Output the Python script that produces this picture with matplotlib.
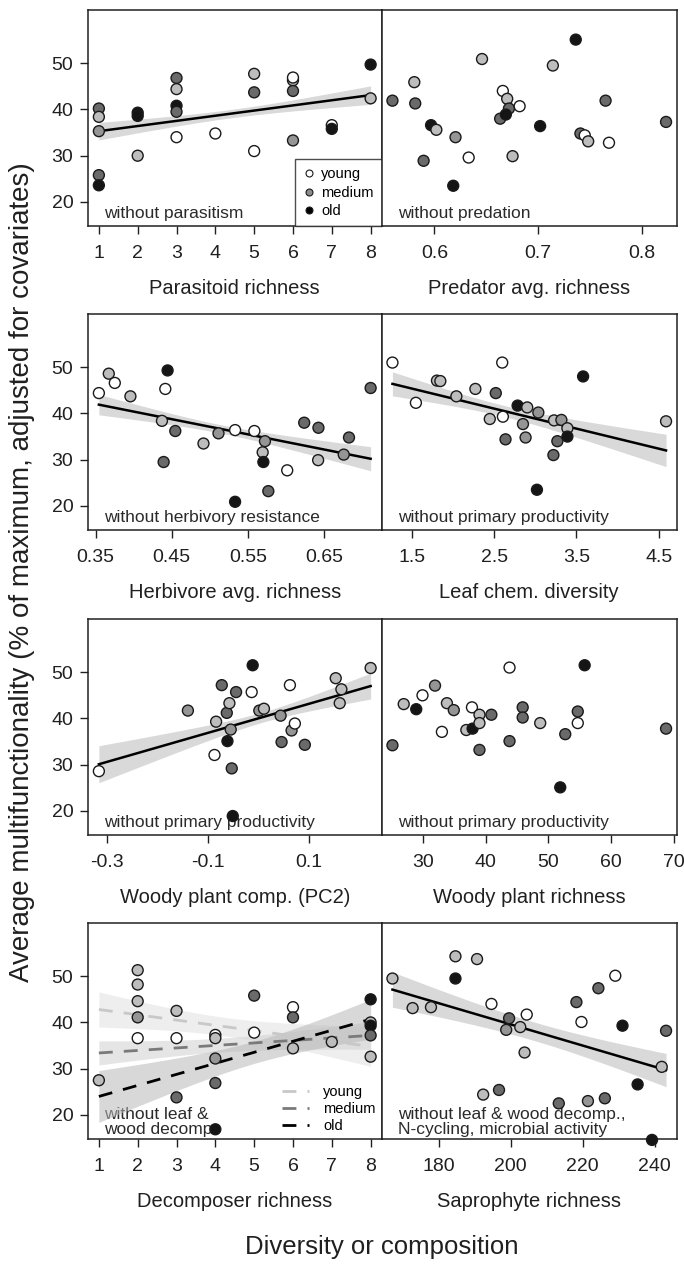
import numpy as np
import matplotlib
matplotlib.use("Agg")
import matplotlib.pyplot as plt
from matplotlib.lines import Line2D

plt.rcParams['font.family'] = ['Liberation Sans', 'DejaVu Sans']
plt.rcParams['axes.unicode_minus'] = False

# ---------------- data ----------------
# age codes: 0 = young (white) ... 4 = old (black)
age_colors = ['#ffffff', '#bdbdbd', '#959595', '#6a6a6a', '#151515']

parasitoid_x = [1, 1, 1, 1, 1, 2, 2, 2, 3, 3, 3, 3, 3, 4, 5, 5, 5, 6, 6, 6, 6, 7, 7, 8, 8]
parasitoid_y = [40.2, 38.4, 35.3, 25.8, 23.6, 39.3, 38.6, 30.0, 46.8, 44.4, 40.8, 39.5, 34.0, 34.8,
                47.7, 43.7, 31.0, 46.3, 46.9, 44.0, 33.3, 36.6, 35.8, 49.7, 42.4]
parasitoid_age = [3, 1, 2, 3, 4, 4, 4, 1, 3, 1, 4, 3, 0, 0, 1, 3, 0, 1, 0, 3, 2, 0, 4, 4, 1]

predator_x = [0.5595, 0.5806, 0.5815, 0.5896, 0.5968, 0.6019, 0.6182, 0.6204, 0.6331, 0.6460,
              0.6635, 0.6661, 0.6703, 0.6720, 0.6690, 0.6823, 0.6755, 0.7021, 0.7144, 0.7365,
              0.7410, 0.7452, 0.7485, 0.7653, 0.7686, 0.8237]
predator_y = [41.9, 45.9, 41.3, 28.9, 36.6, 35.6, 23.5, 34.0, 29.6, 50.9, 38.0, 44.0, 42.3, 40.2,
              38.9, 40.7, 29.9, 36.4, 49.5, 55.1, 34.8, 34.4, 33.1, 41.9, 32.8, 37.3]
predator_age = [3, 1, 3, 3, 4, 1, 4, 2, 0, 1, 3, 0, 1, 3, 4, 0, 1, 4, 1, 4, 3, 0, 1, 3, 0, 3]

herbivore_x = [0.3544, 0.3674, 0.3753, 0.3958, 0.4416, 0.4446, 0.4372, 0.4547, 0.4394, 0.4917,
               0.5114, 0.5332, 0.5332, 0.5585, 0.5724, 0.5694, 0.5703, 0.5768, 0.6016, 0.6239,
               0.6426, 0.6422, 0.6758, 0.6827, 0.7111]
herbivore_y = [44.4, 48.6, 46.6, 43.7, 45.3, 49.3, 38.4, 36.2, 29.5, 33.5, 35.7, 36.4, 20.9, 36.2,
               34.0, 31.6, 29.5, 23.2, 27.7, 38.0, 36.9, 29.9, 31.1, 34.8, 45.5]
herbivore_age = [0, 1, 0, 1, 0, 4, 1, 3, 3, 1, 2, 0, 4, 0, 2, 1, 4, 3, 0, 3, 3, 1, 2, 3, 3]

leafchem_x = [1.264, 1.549, 1.805, 1.846, 2.041, 2.272, 2.520, 2.598, 2.447, 2.606, 2.638, 2.785,
              2.902, 2.850, 2.882, 3.037, 3.020, 3.228, 3.317, 3.220, 3.268, 3.390, 3.390, 3.581, 4.589]
leafchem_y = [51.0, 42.3, 47.1, 47.0, 43.7, 45.3, 44.4, 51.0, 38.8, 39.3, 34.4, 41.7, 41.3, 37.7,
              34.8, 40.2, 23.5, 38.5, 38.6, 31.0, 34.0, 36.8, 35.0, 48.0, 38.3]
leafchem_age = [0, 0, 1, 1, 1, 1, 3, 0, 1, 0, 3, 4, 1, 2, 2, 2, 4, 1, 2, 3, 3, 1, 4, 4, 1]

woodycomp_x = [-0.3151, -0.1391, -0.0865, -0.0833, -0.0721, -0.0622, -0.0570, -0.0544, -0.0609,
               -0.0524, -0.0504, -0.0438, -0.0130, -0.0110, 0.0021, 0.0113, 0.0442, 0.0461,
               0.0626, 0.0659, 0.0724, 0.0921, 0.1532, 0.1644, 0.1611, 0.2222]
woodycomp_y = [28.6, 41.7, 32.1, 39.3, 47.2, 41.2, 43.3, 37.6, 35.1, 29.2, 18.9, 45.7, 45.7, 51.5,
               41.7, 42.1, 40.6, 34.9, 47.2, 37.4, 38.9, 34.3, 48.7, 46.3, 43.3, 50.9]
woodycomp_age = [0, 2, 0, 1, 3, 3, 1, 2, 4, 3, 4, 3, 0, 4, 2, 1, 2, 3, 0, 2, 0, 3, 1, 1, 1, 1]

woodyrich_x = [25.1, 26.9, 28.9, 29.9, 31.9, 33.0, 33.8, 34.9, 36.9, 37.8, 37.9, 39.0, 39.0, 39.0,
               40.9, 43.8, 43.8, 45.9, 45.9, 48.7, 51.9, 52.7, 54.7, 54.7, 55.8, 68.8]
woodyrich_y = [34.2, 43.1, 42.0, 45.0, 47.1, 37.1, 43.3, 41.8, 37.5, 42.4, 37.8, 40.8, 39.0, 33.2,
               40.8, 51.0, 35.1, 42.4, 40.2, 39.0, 25.1, 36.6, 41.5, 39.0, 51.5, 37.8]
woodyrich_age = [3, 1, 4, 0, 2, 0, 1, 2, 1, 0, 4, 1, 1, 3, 3, 0, 3, 3, 3, 1, 4, 3, 3, 0, 4, 3]

decomposer_x = [1, 2, 2, 2, 2, 2, 3, 3, 3, 4, 4, 4, 4, 4, 5, 5, 6, 6, 6, 7, 8, 8, 8, 8, 8]
decomposer_y = [27.5, 51.3, 48.2, 44.6, 41.1, 36.6, 42.5, 36.6, 23.8, 37.3, 36.6, 32.2, 26.9, 16.9,
                45.8, 37.8, 43.3, 41.1, 34.4, 35.8, 45.0, 40.0, 39.3, 37.2, 32.6]
decomposer_age = [1, 1, 1, 1, 2, 0, 1, 0, 3, 0, 1, 2, 3, 4, 3, 0, 0, 3, 1, 1, 4, 1, 4, 3, 1]

saprophyte_x = [167.2, 172.8, 177.9, 184.7, 184.7, 190.7, 192.4, 194.7, 196.8, 198.8, 199.6, 202.7,
                203.9, 204.5, 213.4, 218.3, 219.7, 221.5, 224.4, 226.2, 229.1, 231.1, 235.3, 239.3,
                242.0, 243.2]
saprophyte_y = [49.5, 43.1, 43.3, 54.3, 49.5, 53.7, 24.4, 44.0, 25.4, 38.4, 40.9, 39.0, 33.5, 41.7,
                22.5, 44.4, 40.1, 23.0, 47.4, 23.6, 50.1, 39.3, 26.6, 14.6, 30.4, 38.2]
saprophyte_age = [1, 1, 1, 1, 4, 1, 1, 0, 3, 2, 3, 1, 1, 0, 3, 3, 0, 2, 3, 3, 0, 4, 4, 4, 1, 3]

# fitted lines: value at the two ends of the data range; band half-widths (left, narrowest, right)
parasitoid_fit = [35.3, 43.1]
parasitoid_band = [1.9, 0.9, 2.0]
herbivore_fit = [41.9, 30.2]
herbivore_band = [2.2, 0.9, 2.6]
leafchem_fit = [46.4, 32.0]
leafchem_band = [2.6, 1.2, 3.5]
woodycomp_fit = [30.1, 47.0]
woodycomp_band = [4.0, 1.1, 2.8]
saprophyte_fit = [47.1, 29.7]
saprophyte_band = [3.8, 2.0, 3.6]

decomp_groups = ['young', 'medium', 'old']
decomp_fit = {'young': [42.8, 34.8], 'medium': [33.4, 37.2], 'old': [24.0, 40.7]}
decomp_band = {'young': [3.8, 2.0, 4.3], 'medium': [2.6, 1.5, 3.0], 'old': [5.6, 2.4, 4.3]}

x_ticks = {
    'parasitoid': [1, 2, 3, 4, 5, 6, 7, 8],
    'predator': [0.6, 0.7, 0.8],
    'herbivore': [0.35, 0.45, 0.55, 0.65],
    'leafchem': [1.5, 2.5, 3.5, 4.5],
    'woodycomp': [-0.3, -0.1, 0.1],
    'woodyrich': [30, 40, 50, 60, 70],
    'decomposer': [1, 2, 3, 4, 5, 6, 7, 8],
    'saprophyte': [180, 200, 220, 240],
}
x_ticklabels = {
    'parasitoid': ['1', '2', '3', '4', '5', '6', '7', '8'],
    'predator': ['0.6', '0.7', '0.8'],
    'herbivore': ['0.35', '0.45', '0.55', '0.65'],
    'leafchem': ['1.5', '2.5', '3.5', '4.5'],
    'woodycomp': ['-0.3', '-0.1', '0.1'],
    'woodyrich': ['30', '40', '50', '60', '70'],
    'decomposer': ['1', '2', '3', '4', '5', '6', '7', '8'],
    'saprophyte': ['180', '200', '220', '240'],
}
x_labels = {
    'parasitoid': 'Parasitoid richness',
    'predator': 'Predator avg. richness',
    'herbivore': 'Herbivore avg. richness',
    'leafchem': 'Leaf chem. diversity',
    'woodycomp': 'Woody plant comp. (PC2)',
    'woodyrich': 'Woody plant richness',
    'decomposer': 'Decomposer richness',
    'saprophyte': 'Saprophyte richness',
}
panel_notes = {
    'parasitoid': 'without parasitism',
    'predator': 'without predation',
    'herbivore': 'without herbivory resistance',
    'leafchem': 'without primary productivity',
    'woodycomp': 'without primary productivity',
    'woodyrich': 'without primary productivity',
    'decomposer': 'without leaf &\nwood decomp.',
    'saprophyte': 'without leaf & wood decomp.,\nN-cycling, microbial activity',
}
y_ticks = [20, 30, 40, 50]
y_lim = (14.8, 61.5)

# ---------------- helpers ----------------
W, H = 684, 1283
fig = plt.figure(figsize=(W / 100, H / 100), dpi=100)

row_tops = [10, 314, 619, 923]
panel_h = 216
col_lefts = [88, 381.5]
panel_w = [293.5, 295.5]


def make_ax(row, col):
    l = col_lefts[col] / W
    b = 1 - (row_tops[row] + panel_h) / H
    ax = fig.add_axes([l, b, panel_w[col] / W, panel_h / H])
    for s in ax.spines.values():
        s.set_linewidth(1.1)
        s.set_color('#202020')
    ax.set_ylim(*y_lim)
    ax.tick_params(axis='both', direction='out', length=5.5, width=1.0, color='#202020',
                   labelsize=14, pad=8.5, labelcolor='#202020')
    ax.tick_params(axis='y', pad=5)
    if col == 0:
        ax.set_yticks(y_ticks)
        ax.set_yticklabels([str(v) for v in y_ticks])
    else:
        ax.set_yticks([])
    return ax


def band_curve(xs, x0, x1, hw):
    hl, hm, hr = hw
    a = hm ** 2
    r = np.sqrt((hl ** 2 - a) / (hr ** 2 - a))
    xc = (x0 + r * x1) / (1 + r)
    b = (hl ** 2 - a) / (xc - x0) ** 2
    return np.sqrt(a + b * (xs - xc) ** 2)


def draw_fit(ax, x0, x1, fit, hw, color='black', band_color='#d9d9d9', band_alpha=1.0,
             ls='-', lw=1.8, z=2):
    xs = np.linspace(x0, x1, 200)
    ys = fit[0] + (fit[1] - fit[0]) * (xs - x0) / (x1 - x0)
    h = band_curve(xs, x0, x1, hw)
    ax.fill_between(xs, ys - h, ys + h, color=band_color, alpha=band_alpha, lw=0, zorder=z)
    ax.plot(xs, ys, color=color, lw=lw, ls=ls, zorder=z + 0.5)


def finish(ax, key, xdata):
    xmin, xmax = min(xdata), max(xdata)
    rng = xmax - xmin
    ax.set_xlim(xmin - 0.04 * rng, xmax + 0.04 * rng)
    ax.set_xticks(x_ticks[key])
    ax.set_xticklabels(x_ticklabels[key])
    ax.set_xlabel(x_labels[key], fontsize=14.5, labelpad=12, color='#202020')
    note = panel_notes[key]
    ypos = 0.008 if '\n' in note else 0.025
    ax.text(0.055, ypos, note, transform=ax.transAxes, fontsize=12.5,
            ha='left', va='bottom', color='#2a2a2a', linespacing=1.0, zorder=1)


def scatter(ax, x, y, age):
    cols = [age_colors[a] for a in age]
    ax.scatter(x, y, s=62, c=cols, edgecolors='#1a1a1a', linewidths=1.0, zorder=4,
               clip_on=False)


panels = [
    ('parasitoid', 0, 0, parasitoid_x, parasitoid_y, parasitoid_age, parasitoid_fit, parasitoid_band),
    ('predator', 0, 1, predator_x, predator_y, predator_age, None, None),
    ('herbivore', 1, 0, herbivore_x, herbivore_y, herbivore_age, herbivore_fit, herbivore_band),
    ('leafchem', 1, 1, leafchem_x, leafchem_y, leafchem_age, leafchem_fit, leafchem_band),
    ('woodycomp', 2, 0, woodycomp_x, woodycomp_y, woodycomp_age, woodycomp_fit, woodycomp_band),
    ('woodyrich', 2, 1, woodyrich_x, woodyrich_y, woodyrich_age, None, None),
    ('decomposer', 3, 0, decomposer_x, decomposer_y, decomposer_age, None, None),
    ('saprophyte', 3, 1, saprophyte_x, saprophyte_y, saprophyte_age, saprophyte_fit, saprophyte_band),
]

for key, row, col, xd, yd, ad, fit, band in panels:
    ax = make_ax(row, col)
    if fit is not None:
        draw_fit(ax, min(xd), max(xd), fit, band)
    if key == 'decomposer':
        line_cols = {'young': '#c8c8c8', 'medium': '#7a7a7a', 'old': '#000000'}
        band_cols = {'young': '#e9e9e9', 'medium': '#d4d4d4', 'old': '#b8b8b8'}
        band_alpha = {'young': 0.75, 'medium': 0.6, 'old': 0.55}
        for g in decomp_groups:
            draw_fit(ax, min(xd), max(xd), decomp_fit[g], decomp_band[g], color=line_cols[g],
                     band_color=band_cols[g], band_alpha=band_alpha[g], ls=(0, (5, 4)), lw=2.0)
        handles = [Line2D([], [], color=line_cols[g], lw=2.0, ls=(0, (5, 4))) for g in decomp_groups]
        ax.legend(handles, decomp_groups, loc='lower right', frameon=False, fontsize=10.5,
                  handlelength=1.8, handletextpad=1.0, labelspacing=0.2, borderaxespad=0.2,
                  borderpad=0.2)
    scatter(ax, xd, yd, ad)
    finish(ax, key, xd)
    if key == 'parasitoid':
        handles = [Line2D([], [], ls='', marker='o', markersize=5, markerfacecolor=c,
                          markeredgecolor='#1a1a1a', markeredgewidth=0.8)
                   for c in ['#ffffff', '#8c8c8c', '#000000']]
        leg = ax.legend(handles, ['young', 'medium', 'old'], loc='lower right', frameon=True,
                        fancybox=False, edgecolor='#202020', fontsize=10.5, handlelength=0.8,
                        handletextpad=0.4, labelspacing=0.3, borderaxespad=0, borderpad=0.55)
        leg.get_frame().set_linewidth(1.0)
        leg.set_zorder(5)

fig.text(22 / W, 1 - 572 / H,
         'Average multifunctionality (% of maximum, adjusted for covariates)',
         rotation=90, ha='center', va='center', fontsize=20, color='#202020')
fig.text(382 / W, 1 - 1247 / H, 'Diversity or composition', ha='center', va='center',
         fontsize=18.5, color='#202020')

fig.savefig('out.png', dpi=100)
